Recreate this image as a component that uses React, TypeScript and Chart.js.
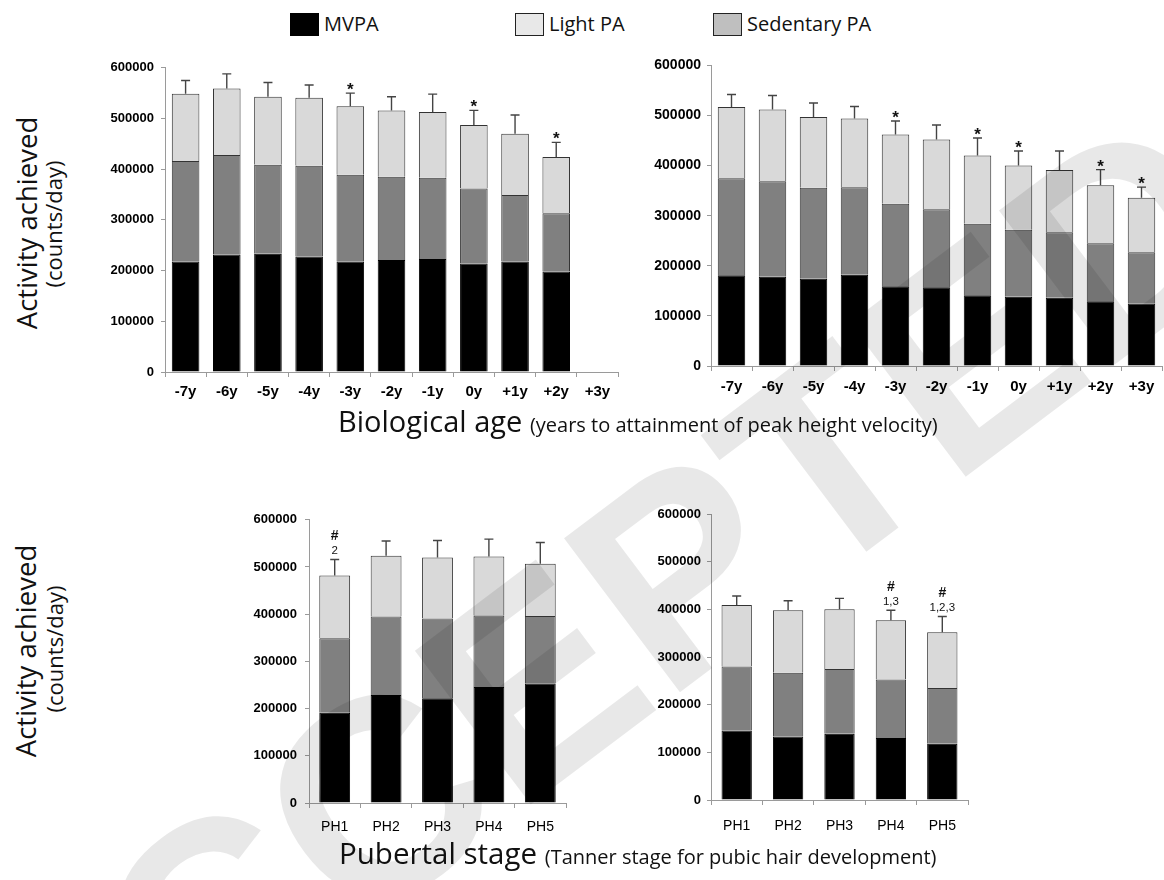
import React, { useEffect, useRef } from 'react';
import { Chart, registerables } from 'chart.js';

Chart.register(...registerables);
Chart.defaults.font.family = '"Liberation Sans", Arial, sans-serif';

// ---------- data ----------
const ageLabels = ['-7y', '-6y', '-5y', '-4y', '-3y', '-2y', '-1y', '0y', '+1y', '+2y', '+3y'];
const phLabels = ['PH1', 'PH2', 'PH3', 'PH4', 'PH5'];
const yTickValues = [0, 100000, 200000, 300000, 400000, 500000, 600000];

// Top-left panel (biological age)
const ageA_mvpa = [218000, 232000, 233000, 228000, 218000, 221000, 223000, 214000, 218000, 198000, null];
const ageA_sed = [198000, 196000, 176000, 179000, 171000, 164000, 160000, 148000, 131000, 115000, null];
const ageA_light = [133000, 131000, 134000, 134000, 135000, 131000, 130000, 125000, 121000, 111000, null];
const ageA_sd = [26000, 29000, 28000, 25000, 26000, 27000, 35000, 29000, 37000, 29000, null];
const ageA_marks = ['', '', '', '', '*', '', '', '*', '', '*', ''];

// Top-right panel (biological age)
const ageB_mvpa = [181000, 178000, 174000, 182000, 159000, 157000, 141000, 138000, 136000, 129000, 125000];
const ageB_sed = [194000, 191000, 182000, 175000, 165000, 156000, 143000, 134000, 131000, 116000, 102000];
const ageB_light = [142000, 143000, 141000, 137000, 138000, 139000, 136000, 128000, 124000, 116000, 109000];
const ageB_sd = [25000, 28000, 28000, 24000, 27000, 29000, 35000, 29000, 38000, 31000, 21000];
const ageB_marks = ['', '', '', '', '*', '', '*', '*', '', '*', '*'];

// Bottom-left panel (pubertal stage)
const phA_mvpa = [191000, 229000, 222000, 246000, 253000];
const phA_sed = [158000, 166000, 169000, 151000, 143000];
const phA_light = [133000, 129000, 129000, 125000, 111000];
const phA_sd = [34000, 31000, 36000, 37000, 45000];
const phA_marks = ['#', '', '', '', ''];
const phA_subs = ['2', '', '', '', ''];

// Bottom-right panel (pubertal stage)
const phB_mvpa = [146000, 133000, 139000, 130000, 118000];
const phB_sed = [134000, 134000, 136000, 123000, 117000];
const phB_light = [129000, 131000, 125000, 124000, 117000];
const phB_sd = [19000, 20000, 23000, 21000, 33000];
const phB_marks = ['', '', '', '#', '#'];
const phB_subs = ['', '', '', '1,3', '1,2,3'];

// ---------- styles ----------
const COL_MVPA = '#000000';
const COL_SED = '#808080';
const COL_LIGHT = '#d9d9d9';
const AXIS_COL = '#9a9a9a';

type Panel = {
  labels: string[];
  mvpa: (number | null)[];
  sed: (number | null)[];
  light: (number | null)[];
  sd: (number | null)[];
  marks: string[];
  subs: string[];
  area: { l: number; t: number; r: number; b: number };
  yW: number;
  xH: number;
  padTop: number;
  padRight: number;
  barPct: number;
  xFont: { size: number; weight: string };
  yFont: { size: number; weight: string };
  xPad: number;
  yPad: number;
};

const panels: Panel[] = [
  {
    labels: ageLabels, mvpa: ageA_mvpa, sed: ageA_sed, light: ageA_light, sd: ageA_sd,
    marks: ageA_marks, subs: [],
    area: { l: 165, t: 67, r: 618, b: 372 }, yW: 70, xH: 40, padTop: 14, padRight: 8,
    barPct: 0.67, xFont: { size: 15, weight: 'bold' }, yFont: { size: 13, weight: 'bold' }, xPad: 6, yPad: 7,
  },
  {
    labels: ageLabels, mvpa: ageB_mvpa, sed: ageB_sed, light: ageB_light, sd: ageB_sd,
    marks: ageB_marks, subs: [],
    area: { l: 711, t: 65, r: 1162, b: 366 }, yW: 70, xH: 40, padTop: 14, padRight: 2,
    barPct: 0.67, xFont: { size: 15, weight: 'bold' }, yFont: { size: 14, weight: 'bold' }, xPad: 7, yPad: 6,
  },
  {
    labels: phLabels, mvpa: phA_mvpa, sed: phA_sed, light: phA_light, sd: phA_sd,
    marks: phA_marks, subs: phA_subs,
    area: { l: 309, t: 518, r: 566, b: 803 }, yW: 70, xH: 40, padTop: 14, padRight: 8,
    barPct: 0.6, xFont: { size: 14, weight: 'normal' }, yFont: { size: 13, weight: 'bold' }, xPad: 11, yPad: 8,
  },
  {
    labels: phLabels, mvpa: phB_mvpa, sed: phB_sed, light: phB_light, sd: phB_sd,
    marks: phB_marks, subs: phB_subs,
    area: { l: 711, t: 514, r: 968, b: 800 }, yW: 70, xH: 40, padTop: 14, padRight: 8,
    barPct: 0.59, xFont: { size: 14, weight: 'normal' }, yFont: { size: 13, weight: 'bold' }, xPad: 13, yPad: 6,
  },
];

function makeErrPlugin(p: Panel) {
  return {
    id: 'errbars',
    afterDatasetsDraw(chart: any) {
      const ctx = chart.ctx;
      const xs = chart.scales.x;
      const ys = chart.scales.y;
      const n = chart.data.labels.length;
      for (let i = 0; i < n; i++) {
        let total = 0;
        let has = false;
        chart.data.datasets.forEach((ds: any) => {
          const v = ds.data[i];
          if (v != null) { total += v; has = true; }
        });
        const sd = p.sd[i];
        if (!has || sd == null) continue;
        const x = xs.getPixelForValue(i);
        const y0 = ys.getPixelForValue(total);
        const y1 = ys.getPixelForValue(total + sd);
        ctx.save();
        ctx.strokeStyle = '#444';
        ctx.lineWidth = 1.4;
        ctx.beginPath();
        ctx.moveTo(x, y0);
        ctx.lineTo(x, y1);
        ctx.moveTo(x - 4.5, y1);
        ctx.lineTo(x + 4.5, y1);
        ctx.stroke();
        ctx.fillStyle = '#111';
        ctx.textAlign = 'center';
        ctx.textBaseline = 'alphabetic';
        const m = p.marks[i];
        if (m === '*') {
          ctx.font = 'bold 17px "Liberation Sans", Arial, sans-serif';
          ctx.fillText('*', x, y1 + 2);
        } else if (m === '#') {
          ctx.font = 'bold 14px "Liberation Sans", Arial, sans-serif';
          ctx.fillText('#', x, y1 - 19);
          const s = p.subs[i];
          if (s) {
            ctx.font = '11.5px "Liberation Sans", Arial, sans-serif';
            ctx.fillText(s, x, y1 - 5);
          }
        }
        ctx.restore();
      }
    },
  };
}

function makeConfig(p: Panel): any {
  const border = { borderColor: '#333', borderWidth: 1 };
  return {
    type: 'bar',
    data: {
      labels: p.labels,
      datasets: [
        { label: 'MVPA', data: p.mvpa, backgroundColor: COL_MVPA, borderColor: '#000', borderWidth: 1 },
        { label: 'Sedentary PA', data: p.sed, backgroundColor: COL_SED, ...border },
        { label: 'Light PA', data: p.light, backgroundColor: COL_LIGHT, ...border },
      ],
    },
    options: {
      animation: false,
      responsive: false,
      maintainAspectRatio: false,
      layout: { padding: { top: p.padTop, right: p.padRight, left: 0, bottom: 0 } },
      plugins: { legend: { display: false }, tooltip: { enabled: false } },
      datasets: { bar: { barPercentage: p.barPct, categoryPercentage: 1 } },
      scales: {
        x: {
          stacked: true,
          grid: { offset: true, drawOnChartArea: false, drawTicks: true, tickLength: 5, color: AXIS_COL },
          border: { display: true, color: AXIS_COL, width: 1 },
          ticks: { color: '#000', font: p.xFont, padding: p.xPad, maxRotation: 0, autoSkip: false },
          afterFit: (s: any) => { s.height = p.xH; },
        },
        y: {
          stacked: true,
          min: 0,
          max: 600000,
          afterBuildTicks: (s: any) => { s.ticks = yTickValues.map((v) => ({ value: v })); },
          ticks: { color: '#000', font: p.yFont, padding: p.yPad, callback: (v: any) => String(v) },
          grid: { drawOnChartArea: false, drawTicks: true, tickLength: 4, color: AXIS_COL },
          border: { display: true, color: AXIS_COL, width: 1 },
          afterFit: (s: any) => { s.width = p.yW; },
        },
      },
    },
    plugins: [makeErrPlugin(p)],
  };
}

function BarPanel({ p }: { p: Panel }) {
  const ref = useRef<HTMLCanvasElement>(null);
  const w = p.area.r - p.area.l + p.yW + p.padRight;
  const h = p.area.b - p.area.t + p.padTop + p.xH;
  useEffect(() => {
    const chart = new Chart(ref.current as HTMLCanvasElement, makeConfig(p));
    return () => chart.destroy();
  }, []);
  return (
    <canvas
      ref={ref}
      width={w}
      height={h}
      style={{ position: 'absolute', left: p.area.l - p.yW, top: p.area.t - p.padTop, width: w, height: h }}
    />
  );
}

const titleFont = '"Open Sans", "Noto Sans", sans-serif';

function LegendItem({ left, color, text, border }: { left: number; color: string; text: string; border: boolean }) {
  return (
    <>
      <div
        style={{
          position: 'absolute', left, top: 13, width: 29, height: 23, boxSizing: 'border-box',
          background: color, border: border ? '1.5px solid #222' : 'none',
        }}
      />
      <div
        style={{
          position: 'absolute', left: left + 34, top: 10, height: 28, lineHeight: '28px',
          fontSize: 20, fontFamily: titleFont, color: '#111', whiteSpace: 'nowrap',
        }}
      >
        {text}
      </div>
    </>
  );
}

function VTitle({ cx, cy, size, text }: { cx: number; cy: number; size: number; text: string }) {
  return (
    <div
      style={{
        position: 'absolute', left: cx, top: cy, transform: 'translate(-50%, -50%) rotate(-90deg)',
        fontSize: size, fontFamily: titleFont, color: '#111', whiteSpace: 'nowrap', lineHeight: 1.2,
      }}
    >
      {text}
    </div>
  );
}

export default function App() {
  return (
    <div
      style={{
        position: 'absolute', left: 0, top: 0, width: 1164, height: 880, background: '#fff', overflow: 'hidden',
      }}
    >
      <LegendItem left={290} color="#000" text="MVPA" border={false} />
      <LegendItem left={515} color="#e8e8e8" text="Light PA" border={true} />
      <LegendItem left={713} color="#bfbfbf" text="Sedentary PA" border={true} />

      {panels.map((p, i) => (
        <BarPanel key={i} p={p} />
      ))}

      <VTitle cx={26} cy={223} size={27.5} text="Activity achieved" />
      <VTitle cx={53} cy={224} size={22} text="(counts/day)" />
      <VTitle cx={25} cy={651} size={27.5} text="Activity achieved" />
      <VTitle cx={54} cy={649} size={22} text="(counts/day)" />

      <div
        style={{
          position: 'absolute', left: 338, top: 404, lineHeight: '34px', fontSize: 29, fontFamily: titleFont,
          color: '#111', whiteSpace: 'nowrap',
        }}
      >
        Biological age <span style={{ fontSize: 20 }}>(years to attainment of peak height velocity)</span>
      </div>
      <div
        style={{
          position: 'absolute', left: 339, top: 836, lineHeight: '34px', fontSize: 29.5, fontFamily: titleFont,
          color: '#111', whiteSpace: 'nowrap',
        }}
      >
        Pubertal stage <span style={{ fontSize: 20 }}>(Tanner stage for pubic hair development)</span>
      </div>

      <div
        style={{
          position: 'absolute', left: 588, top: 640, transform: 'translate(-50%, -50%) rotate(-37deg)',
          fontSize: 280, fontWeight: 700, fontFamily: '"Liberation Sans", Arial, sans-serif',
          color: 'rgba(0,0,0,0.09)', whiteSpace: 'nowrap', pointerEvents: 'none', lineHeight: 1,
        }}
      >
        ACCEPTED
      </div>
    </div>
  );
}
